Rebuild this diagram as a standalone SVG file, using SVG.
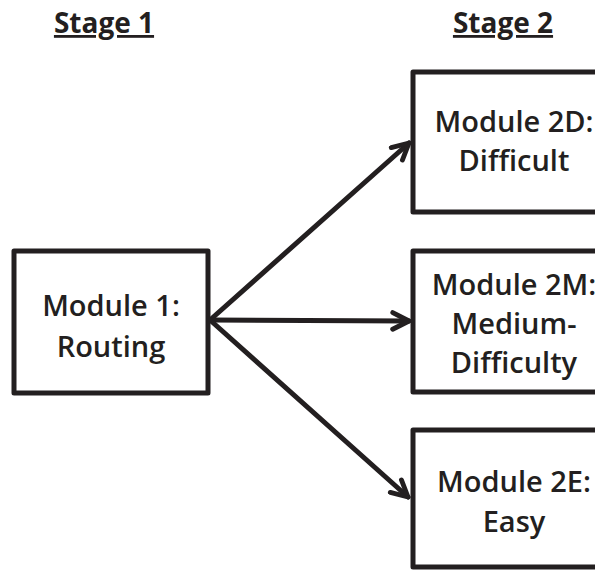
<svg xmlns="http://www.w3.org/2000/svg" width="595" height="570" viewBox="0 0 595 570">
<defs>
<style>
.box{fill:#fff;stroke:#231f20;stroke-width:5;stroke-linejoin:round}
.lbl{font-family:"Open Sans","Liberation Sans",sans-serif;font-size:29px;font-weight:600;fill:#231f20;text-anchor:middle}
.hdr{font-family:"Open Sans","Liberation Sans",sans-serif;font-size:28px;font-weight:bold;fill:#231f20;text-anchor:middle;text-decoration:underline}
.conn{stroke:#231f20;stroke-width:5;fill:none;stroke-linecap:round}
</style>
<marker id="ah" viewBox="0 0 10 10" refX="8.6" refY="5" markerWidth="4.4" markerHeight="4.4" orient="auto" markerUnits="strokeWidth">
<path d="M1.2,1.2 L8.6,5 L1.2,8.8" fill="none" stroke="#231f20" stroke-width="2.2" stroke-linecap="round" stroke-linejoin="round"/>
</marker>
</defs>
<rect width="595" height="570" fill="#fff"/>
<g id="headers">
<text class="hdr" x="104" y="33">Stage 1</text>
<text class="hdr" x="503" y="33">Stage 2</text>
</g>
<g id="connectors">
<line class="conn" x1="210" y1="320" x2="409" y2="143" marker-end="url(#ah)"/>
<line class="conn" x1="210" y1="320" x2="409" y2="321" marker-end="url(#ah)"/>
<line class="conn" x1="210" y1="320" x2="408" y2="497" marker-end="url(#ah)"/>
</g>
<g id="module1">
<rect class="box" x="14" y="251" width="194" height="142"/>
<text class="lbl" x="111" y="316">Module 1:</text>
<text class="lbl" x="111" y="357">Routing</text>
</g>
<g id="module2D">
<rect class="box" x="413" y="72" width="210" height="140"/>
<text class="lbl" x="514" y="132">Module 2D:</text>
<text class="lbl" x="514" y="171">Difficult</text>
</g>
<g id="module2M">
<rect class="box" x="413" y="251" width="210" height="141"/>
<text class="lbl" x="514" y="295">Module 2M:</text>
<text class="lbl" x="514" y="334">Medium-</text>
<text class="lbl" x="514" y="373">Difficulty</text>
</g>
<g id="module2E">
<rect class="box" x="413" y="430" width="210" height="137"/>
<text class="lbl" x="514" y="492">Module 2E:</text>
<text class="lbl" x="514" y="532">Easy</text>
</g>
</svg>
